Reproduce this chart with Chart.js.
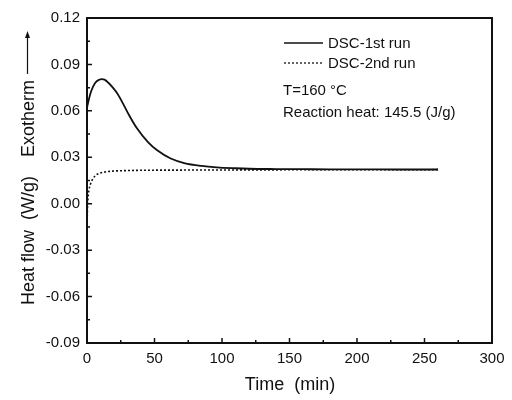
<!DOCTYPE html>
<html>
<head>
<meta charset="utf-8">
<script src="https://cdn.jsdelivr.net/npm/chart.js@4"></script>
<style>
  html, body { margin: 0; padding: 0; background: #fff; }
  #wrap { width: 512px; height: 400px; }
</style>
</head>
<body>
<div id="wrap"><canvas id="c" width="512" height="400"></canvas></div>
<script>
// ---- data ----
const run1Time = [0, 1, 3, 6, 9, 11, 13, 16, 19, 22, 26, 31, 37, 45, 52, 62, 72, 85, 96, 110, 120, 140, 160, 180, 200, 230, 260];
const run1Heat = [0.062, 0.066, 0.0725, 0.078, 0.0801, 0.0805, 0.0802, 0.078, 0.0752, 0.0718, 0.0658, 0.0575, 0.0487, 0.0400, 0.0345, 0.0292, 0.0263, 0.0244, 0.0235, 0.0229, 0.0226, 0.0224, 0.0223, 0.0222, 0.0222, 0.0221, 0.0221];
const run2Time = [0, 0.3, 0.8, 1.5, 2.5, 4, 6, 8, 12, 18, 25, 40, 60, 100, 150, 200, 260];
const run2Heat = [-0.016, -0.004, 0.004, 0.009, 0.0125, 0.0155, 0.018, 0.0192, 0.0203, 0.021, 0.0213, 0.0216, 0.0217, 0.0218, 0.0219, 0.0219, 0.0220];
const seriesNames = ['DSC-1st run', 'DSC-2nd run'];
const xTickValues = [0, 50, 100, 150, 200, 250, 300];
const yTickValues = [-0.09, -0.06, -0.03, 0.00, 0.03, 0.06, 0.09, 0.12];
const xMinorValues = [25, 75, 125, 175, 225, 275];
const yMinorValues = [-0.075, -0.045, -0.015, 0.015, 0.045, 0.075, 0.105];
const xTitle = 'Time  (min)';
const yTitleA = 'Heat flow  (W/g)';
const yTitleB = 'Exotherm';
const noteLines = ['T=160 \u00B0C', 'Reaction heat: 145.5 (J/g)'];

const FONT = '"Liberation Sans", Arial, sans-serif';
const INK = '#111';

const toXY = (xs, ys) => xs.map((x, i) => ({ x: x, y: ys[i] }));

const decorPlugin = {
  id: 'decor',
  afterDraw(chart) {
    const ctx = chart.ctx;
    const a = chart.chartArea;
    const xs = chart.scales.x, ys = chart.scales.y;
    ctx.save();
    ctx.strokeStyle = INK;
    ctx.fillStyle = INK;
    // frame
    ctx.lineWidth = 2;
    ctx.strokeRect(a.left, a.top, a.right - a.left, a.bottom - a.top);
    // inward ticks
    ctx.lineWidth = 1.5;
    ctx.beginPath();
    xTickValues.forEach(v => { const p = xs.getPixelForValue(v); ctx.moveTo(p, a.bottom); ctx.lineTo(p, a.bottom - 5); });
    xMinorValues.forEach(v => { const p = xs.getPixelForValue(v); ctx.moveTo(p, a.bottom); ctx.lineTo(p, a.bottom - 3); });
    yTickValues.forEach(v => { const p = ys.getPixelForValue(v); ctx.moveTo(a.left, p); ctx.lineTo(a.left + 5, p); });
    yMinorValues.forEach(v => { const p = ys.getPixelForValue(v); ctx.moveTo(a.left, p); ctx.lineTo(a.left + 3, p); });
    ctx.stroke();

    // legend
    ctx.font = '15px ' + FONT;
    ctx.textBaseline = 'middle';
    ctx.textAlign = 'left';
    const lx0 = 284, lx1 = 323, tx = 328;
    const rows = [43, 63];
    chart.data.datasets.forEach((ds, i) => {
      ctx.save();
      ctx.lineWidth = 1.3;
      ctx.setLineDash(ds.borderDash || []);
      ctx.beginPath();
      ctx.moveTo(lx0, rows[i]);
      ctx.lineTo(lx1, rows[i]);
      ctx.stroke();
      ctx.restore();
      ctx.fillText(ds.label, tx, rows[i] + 1);
    });
    // notes
    ctx.fillText(noteLines[0], 283, 91);
    ctx.fillText(noteLines[1], 283, 113);

    // y title with arrow
    ctx.save();
    ctx.translate(34, 0);
    ctx.rotate(-Math.PI / 2);
    ctx.font = '18px ' + FONT;
    ctx.textBaseline = 'alphabetic';
    ctx.textAlign = 'left';
    ctx.fillText(yTitleA, -305, 0);
    ctx.fillText(yTitleB, -157, 0);
    // arrow (in rotated coords: x = -y)
    ctx.lineWidth = 1.2;
    ctx.beginPath();
    ctx.moveTo(-74, -6.5);
    ctx.lineTo(-36, -6.5);
    ctx.stroke();
    ctx.beginPath();
    ctx.moveTo(-31, -6.5);
    ctx.lineTo(-38, -9);
    ctx.lineTo(-38, -4);
    ctx.closePath();
    ctx.fill();
    ctx.restore();

    // x title
    ctx.font = '18px ' + FONT;
    ctx.textAlign = 'center';
    ctx.textBaseline = 'middle';
    ctx.fillText(xTitle, 290, 385);
    ctx.restore();
  }
};

new Chart(document.getElementById('c'), {
  type: 'line',
  data: {
    datasets: [
      {
        label: seriesNames[0],
        data: toXY(run1Time, run1Heat),
        borderColor: INK,
        borderWidth: 1.8,
        pointRadius: 0,
        fill: false,
        cubicInterpolationMode: 'monotone'
      },
      {
        label: seriesNames[1],
        data: toXY(run2Time, run2Heat),
        borderColor: INK,
        borderWidth: 1.6,
        borderDash: [2, 2],
        pointRadius: 0,
        fill: false,
        cubicInterpolationMode: 'monotone'
      }
    ]
  },
  options: {
    responsive: false,
    animation: false,
    layout: { padding: { left: 0, top: 18, right: 20, bottom: 0 } },
    plugins: { legend: { display: false }, tooltip: { enabled: false } },
    scales: {
      x: {
        type: 'linear',
        min: 0, max: 300,
        afterBuildTicks: s => { s.ticks = xTickValues.map(v => ({ value: v })); },
        afterFit: s => { s.height = 57; },
        grid: { display: false, drawTicks: false },
        border: { display: false },
        ticks: { color: INK, font: { family: FONT, size: 15 }, padding: 7, maxRotation: 0, autoSkip: false }
      },
      y: {
        type: 'linear',
        min: -0.09, max: 0.12,
        afterBuildTicks: s => { s.ticks = yTickValues.map(v => ({ value: v })); },
        afterFit: s => { s.width = 87; },
        grid: { display: false, drawTicks: false },
        border: { display: false },
        ticks: { color: INK, font: { family: FONT, size: 15 }, padding: 7, autoSkip: false,
                 callback: v => Number(v).toFixed(2) }
      }
    }
  },
  plugins: [decorPlugin]
});
</script>
</body>
</html>
